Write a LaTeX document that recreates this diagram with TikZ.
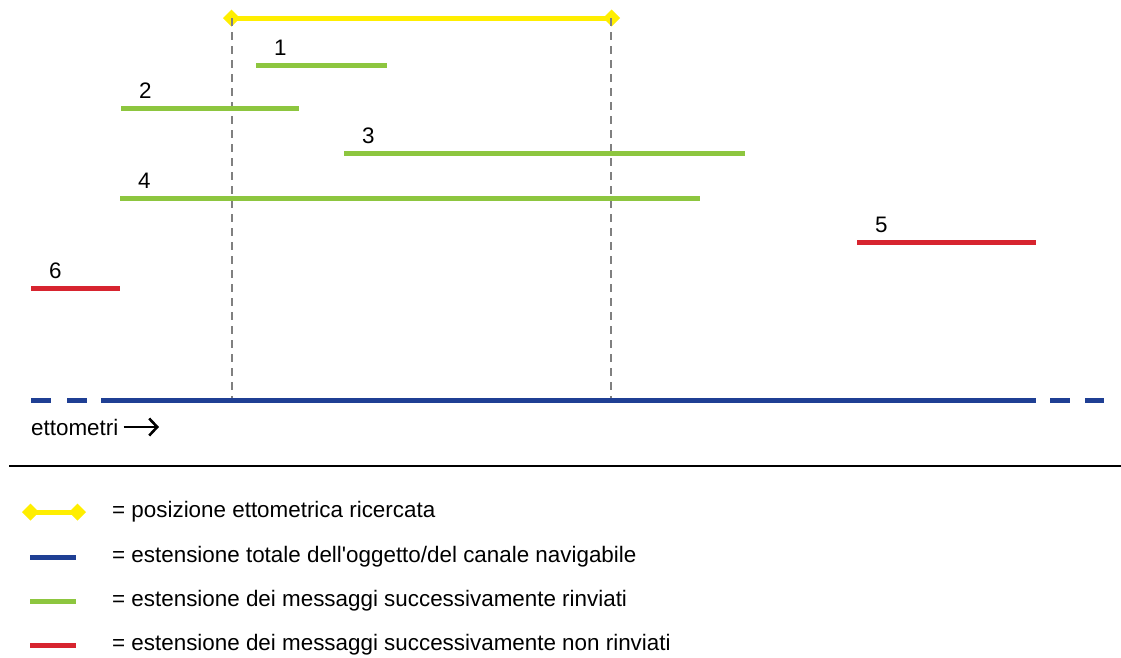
\documentclass[tikz,border=0pt]{standalone}
\usepackage{fontspec}
\setmainfont{Liberation Sans}
\usetikzlibrary{arrows.meta,positioning}
\definecolor{giallo}{HTML}{FFEE00}
\definecolor{blu}{HTML}{1F3F94}
\definecolor{verde}{HTML}{8DC63F}
\definecolor{rosso}{HTML}{D7242F}
\tikzset{
  lab/.style={inner sep=0pt,font=\fontsize{22.4}{26}\selectfont},
  tratto/.style={line width=5pt},
  ricerca/.style={tratto,giallo,{Diamond[length=17pt,width=17pt]}-{Diamond[length=17pt,width=17pt]}},
  oggetto/.style={tratto,blu},
  rinviato/.style={tratto,verde},
  nonrinviato/.style={tratto,rosso},
  guida/.style={gray,line width=1.8pt,dash pattern=on 8pt off 6pt}
}

\begin{document}
\begin{tikzpicture}[x=1pt,y=-1pt]
\useasboundingbox (0,0) rectangle (1121,657);
% The searched position
\coordinate (ra) at (223,18);
\coordinate (rb) at (620,18);
\draw[ricerca] (ra) -- (rb);
\coordinate (ga) at (232,18);
\coordinate (gb) at (611,18);
\coordinate (ga') at (232,400);
\coordinate (gb') at (611,400);
\draw[guida] (ga) -- (ga');
\draw[guida] (gb) -- (gb');
% The messages
\foreach \n/\xa/\xb/\yy/\stile in {1/256/387/65/rinviato,2/121/299/108/rinviato,3/344/745/153/rinviato,
  4/120/700/198/rinviato,5/857/1036/242/nonrinviato,6/31/120/288/nonrinviato}
{
  \coordinate (m\n a) at (\xa,\yy);
  \coordinate (m\n b) at (\xb,\yy);
  \draw[\stile] (m\n a) -- (m\n b);
  \node[lab,above right=9pt and 18pt of m\n a] (n\n) {\n};
}
% The object
\coordinate (oa) at (31,400);
\coordinate (ob) at (101,400);
\coordinate (oc) at (1036,400);
\coordinate (od) at (1104,400);
\draw[oggetto,dash pattern=on 20pt off 16pt] (oa) -- (ob);
\draw[oggetto] (ob) -- (oc);
\draw[oggetto,dash pattern=on 20pt off 15pt] (oc) ++(14,0) -- (od);
\node[lab,anchor=west] (etto) at (31,427) {ettometri};
\coordinate (ea) at (159,427);
\draw[line width=2.6pt,-{Straight Barb[length=8pt,width=17pt]}] (etto.east) ++(5,0) -- (ea);
% The separator
\coordinate (sa) at (9,466);
\coordinate (sb) at (1121,466);
\draw[line width=1.8pt] (sa) -- (sb);
% The legend
\foreach \k/\stile/\xa/\xb/\yy/\testo in {
  1/ricerca/22/86/512/{= posizione ettometrica ricercata},
  2/oggetto/30/76/557/{= estensione totale dell\textquotesingle oggetto/del canale navigabile},
  3/rinviato/30/76/601/{= estensione dei messaggi successivamente rinviati},
  4/nonrinviato/30/76/645/{= estensione dei messaggi successivamente non rinviati}}
{
  \coordinate (l\k a) at (\xa,\yy);
  \coordinate (l\k b) at (\xb,\yy);
  \draw[\stile] (l\k a) -- (l\k b);
  \node[lab,anchor=west] (t\k) at (112,\yy) {\testo};
}
\end{tikzpicture}
\end{document}
